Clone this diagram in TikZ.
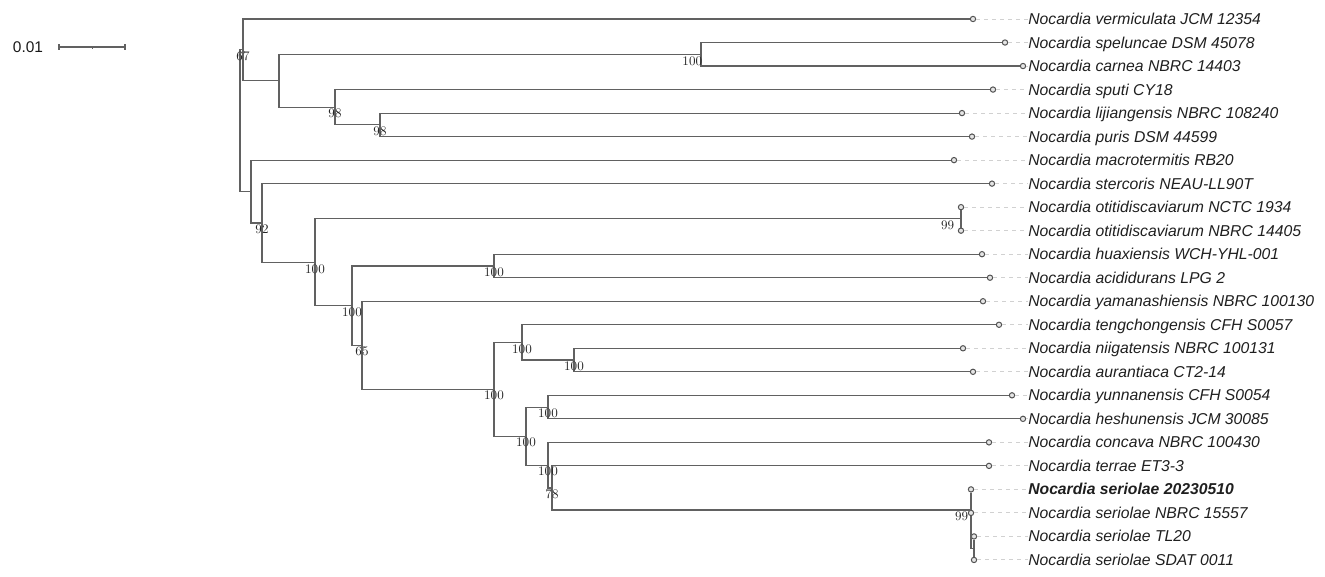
\documentclass[tikz,border=0pt]{standalone}
\usepackage{fontspec}
\setsansfont{Liberation Sans}
\usetikzlibrary{positioning}
\usetikzlibrary{calc}

\begin{document}
\begin{tikzpicture}[
	x=0.75pt,
	y=-0.75pt,
	branch/.style={draw=black!62, line width=0.85pt},
	leader/.style={draw=black!18, line width=0.7pt, dash pattern=on 3pt off 3pt},
	tipdot/.style={circle, draw=black!68, fill=black!10, line width=0.75pt,
		inner sep=0pt, minimum size=4pt},
	taxon/.style={anchor=west, inner sep=0pt, text height=8.5pt, text depth=0.2pt,
		text=black!88, font=\sffamily\itshape\fontsize{11.8}{13}\selectfont},
	support/.style={inner sep=0pt, yshift=-4.9pt, text=black!85,
		font=\fontsize{9.8}{10}\selectfont}]

\def\TopRow{19}
\def\RowGap{23.52}
\def\LabelX{1028}

\useasboundingbox (0,0) rectangle (1325,577);

% scale bar
\node[inner sep=0pt, text=black!90, font=\sffamily\fontsize{11.6}{12}\selectfont]
	(scalelab) at (28,47) {0.01};
\coordinate (scaleL) at (59,47);
\coordinate (scaleM) at (92,47);
\coordinate (scaleR) at (125,47);
\draw[branch] (scaleL) -- (scaleR);
\draw[branch] ([yshift=2.2pt]scaleL) -- ([yshift=-2.2pt]scaleL);
\draw[branch] ([yshift=2.2pt]scaleR) -- ([yshift=-2.2pt]scaleR);
\draw[branch, line width=0.5pt] (scaleM) -- ([yshift=-1.2pt]scaleM);

% taxa, dots and dashed leaders
\foreach \tipname/\row/\tipx/\taxname in {
	verm/0/973/{Nocardia vermiculata JCM 12354},
	spel/1/1005/{Nocardia speluncae DSM 45078},
	carn/2/1023/{Nocardia carnea NBRC 14403},
	sput/3/993/{Nocardia sputi CY18},
	lij/4/962/{Nocardia lijiangensis NBRC 108240},
	pur/5/972/{Nocardia puris DSM 44599},
	macr/6/954/{Nocardia macrotermitis RB20},
	ster/7/992/{Nocardia stercoris NEAU-LL90T},
	otiA/8/961/{Nocardia otitidiscaviarum NCTC 1934},
	otiB/9/961/{Nocardia otitidiscaviarum NBRC 14405},
	huax/10/982/{Nocardia huaxiensis WCH-YHL-001},
	acid/11/990/{Nocardia acididurans LPG 2},
	yama/12/983/{Nocardia yamanashiensis NBRC 100130},
	teng/13/999/{Nocardia tengchongensis CFH S0057},
	niig/14/963/{Nocardia niigatensis NBRC 100131},
	aura/15/973/{Nocardia aurantiaca CT2-14},
	yunn/16/1012/{Nocardia yunnanensis CFH S0054},
	hesh/17/1023/{Nocardia heshunensis JCM 30085},
	conc/18/989/{Nocardia concava NBRC 100430},
	terr/19/989/{Nocardia terrae ET3-3},
	serA/20/971/{\bfseries Nocardia seriolae 20230510},
	serB/21/971/{Nocardia seriolae NBRC 15557},
	serC/22/974/{Nocardia seriolae TL20},
	serD/23/974/{Nocardia seriolae SDAT 0011}}
{
	\node[tipdot] (\tipname) at (\tipx, {\TopRow+\RowGap*\row}) {};
	\node[taxon] (\tipname-lab) at (\LabelX, {\TopRow+\RowGap*\row}) {\taxname};
	\draw[leader] (\tipname) -- (\tipname-lab);
}

% internal nodes (x in px, y as a row index)
\foreach \nname/\nx/\nrow in {R/240/4.324, A/243/1.3125, C/279/2.625, D/701/1.5,
	E/335/3.75, F/380/4.5, B/251/7.336, G/262/8.671, H/315/10.343, I/961/8.5,
	J/352/12.186, K/494/10.5, L/362/13.871, M/494/15.742, N/522/13.75,
	P/574/14.5, O/526/17.734, Q/548/16.5, S/548/18.969, T/552/19.938,
	U/971/20.875, V/974/22.5}
	\coordinate (n\nname) at (\nx, {\TopRow+\RowGap*\nrow});

% upper clade
\draw[branch] (nA) -| (nR) |- (nB);
\draw[branch] (verm) -| (nA) |- (nC);
\draw[branch] (nD) -| (nC) |- (nE);
\draw[branch] (spel) -| (nD) |- (carn);
\draw[branch] (sput) -| (nE) |- (nF);
\draw[branch] (lij) -| (nF) |- (pur);

% lower clade
\draw[branch] (macr) -| (nB) |- (nG);
\draw[branch] (ster) -| (nG) |- (nH);
\draw[branch] (nI) -| (nH) |- (nJ);
\draw[branch] (otiA) -- (otiB);
\draw[branch] (nK) -| (nJ) |- (nL);
\draw[branch] (huax) -| (nK) |- (acid);
\draw[branch] (yama) -| (nL) |- (nM);
\draw[branch] (nN) -| (nM) |- (nO);
\draw[branch] (teng) -| (nN) |- (nP);
\draw[branch] (niig) -| (nP) |- (aura);
\draw[branch] (nQ) -| (nO) |- (nS);
\draw[branch] (yunn) -| (nQ) |- (hesh);
\draw[branch] (conc) -| (nS) |- (nT);
\draw[branch] (terr) -| (nT) |- (nU);

% seriolae
\draw[branch] (serA) -- (serB);
\draw[branch] (serB) |- (nV);
\draw[branch] (serC) -- (serD);

% bootstrap values
\foreach \nname/\bs in {A/67, E/98, F/98, G/92, H/100, J/100, K/100, L/65,
	M/100, N/100, P/100, O/100, Q/100, S/100, T/78}
	\node[support] (bs\nname) at (n\nname) {\bs};
\node[support, anchor=east, xshift=1pt] (bsD) at (nD) {100};
\node[support, anchor=east, xshift=-5pt] (bsI) at (nI) {99};
\node[support, anchor=east, xshift=-2pt] (bsU) at (nU) {99};

\end{tikzpicture}
\end{document}
